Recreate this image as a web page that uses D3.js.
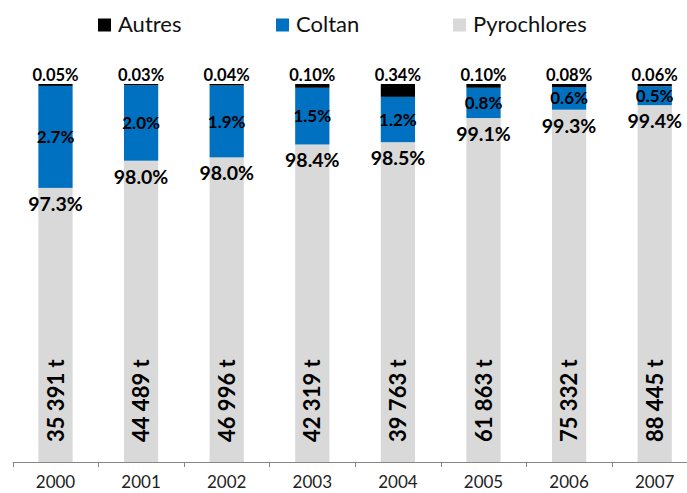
<!DOCTYPE html>
<html>
<head>
<meta charset="utf-8">
<script src="https://cdn.jsdelivr.net/npm/d3@7"></script>
<style>
  body { margin: 0; background: #fff; }
  svg { display: block; font-family: Lato, "Open Sans", sans-serif; }
</style>
</head>
<body>
<svg id="chart" width="687" height="493"></svg>
<script>
// data
const years = ['2000', '2001', '2002', '2003', '2004', '2005', '2006', '2007'];
const pyrochlores = [97.3, 98.0, 98.0, 98.4, 98.5, 99.1, 99.3, 99.4];
const coltan = [2.7, 2.0, 1.9, 1.5, 1.2, 0.8, 0.6, 0.5];
const autres = [0.05, 0.03, 0.04, 0.10, 0.34, 0.10, 0.08, 0.06];
const tonnes = [35391, 44489, 46996, 42319, 39763, 61863, 75332, 88445];

const seriesNames = ['Pyrochlores', 'Coltan', 'Autres'];
const colors = {Pyrochlores: '#d9d9d9', Coltan: '#0070c0', Autres: '#000000'};

const rows = years.map((y, i) => ({
    year: y,
    Pyrochlores: pyrochlores[i],
    Coltan: coltan[i],
    Autres: autres[i],
    tonnes: tonnes[i]
}));

const svg = d3.select('#chart');

const x = d3.scaleBand()
    .domain(years)
    .range([12.7, 697.5])
    .paddingInner(0.6)
    .paddingOuter(0.3);

// 100% stacked, axis shows 90% -> 100%
const y = d3.scaleLinear()
    .domain([0.9, 1])
    .range([462, 84])
    .clamp(true);

const stacked = d3.stack()
    .keys(seriesNames)
    .offset(d3.stackOffsetExpand)(rows);

const groups = svg.append('g')
    .selectAll('g')
    .data(stacked)
    .enter().append('g')
    .attr('fill', d => colors[d.key]);

groups.selectAll('rect')
    .data(d => d)
    .enter().append('rect')
    .attr('x', d => x(d.data.year))
    .attr('width', x.bandwidth())
    .attr('y', d => y(d[1]))
    .attr('height', d => y(d[0]) - y(d[1]));

// x axis: line + ticks between categories
const step = x.step();
const gap = step - x.bandwidth();
const axis = svg.append('g').attr('stroke', '#868686').attr('stroke-width', 1);
axis.append('line')
    .attr('x1', x.range()[0]).attr('x2', x.range()[1])
    .attr('y1', 462.5).attr('y2', 462.5);
axis.selectAll('.tick')
    .data(years)
    .enter().append('line')
    .attr('class', 'tick')
    .attr('x1', d => Math.round(x(d) - gap / 2) + 0.5)
    .attr('x2', d => Math.round(x(d) - gap / 2) + 0.5)
    .attr('y1', 462).attr('y2', 467);

svg.append('g')
    .selectAll('text')
    .data(years)
    .enter().append('text')
    .attr('x', d => x(d) + x.bandwidth() / 2)
    .attr('y', 488)
    .attr('text-anchor', 'middle')
    .style('font-size', '17px')
    .attr('fill', '#222')
    .text(d => d);

const cx = d => x(d.data.year) + x.bandwidth() / 2;
const pyroLayer = stacked[0], coltanLayer = stacked[1], autresLayer = stacked[2];

// Autres labels above bar
svg.append('g')
    .selectAll('text')
    .data(autresLayer)
    .enter().append('text')
    .attr('x', cx)
    .attr('y', d => y(d[1]) - 3)
    .attr('text-anchor', 'middle')
    .style('font-size', '16.5px').style('font-weight', 'bold')
    .text(d => d.data.Autres.toFixed(2) + '%');

// Coltan labels in segment
svg.append('g')
    .selectAll('text')
    .data(coltanLayer)
    .enter().append('text')
    .attr('x', cx)
    .attr('y', d => (y(d[0]) + y(d[1])) / 2)
    .attr('dy', '0.36em')
    .attr('text-anchor', 'middle')
    .style('font-size', '17px').style('font-weight', 'bold')
    .text(d => d.data.Coltan.toFixed(1) + '%');

// Pyrochlores labels under top of grey
svg.append('g')
    .selectAll('text')
    .data(pyroLayer)
    .enter().append('text')
    .attr('x', cx)
    .attr('y', d => y(d[1]) + 23)
    .attr('text-anchor', 'middle')
    .style('font-size', '19.5px').style('font-weight', 'bold')
    .text(d => d.data.Pyrochlores.toFixed(1) + '%');

// tonnage, rotated
const fmt = d3.formatLocale({decimal: ',', thousands: ' ', grouping: [3], currency: ['', '']}).format(',d');
svg.append('g')
    .selectAll('text')
    .data(rows)
    .enter().append('text')
    .attr('transform', d => `translate(${x(d.year) + x.bandwidth() / 2 + 8},442) rotate(-90)`)
    .attr('text-anchor', 'start')
    .style('font-size', '22px').style('font-weight', 'bold')
    .text(d => fmt(d.tonnes) + ' t');

// legend
const legendX = [98, 276, 453];
const legendOrder = ['Autres', 'Coltan', 'Pyrochlores'];
const legend = svg.append('g')
    .selectAll('g')
    .data(legendOrder)
    .enter().append('g')
    .attr('transform', (d, i) => `translate(${legendX[i]},0)`);
legend.append('rect')
    .attr('y', 18.5).attr('width', 13).attr('height', 13)
    .attr('fill', d => colors[d]);
legend.append('text')
    .attr('x', 20).attr('y', 32)
    .style('font-size', '22px')
    .attr('fill', '#111')
    .text(d => d);
</script>
</body>
</html>
